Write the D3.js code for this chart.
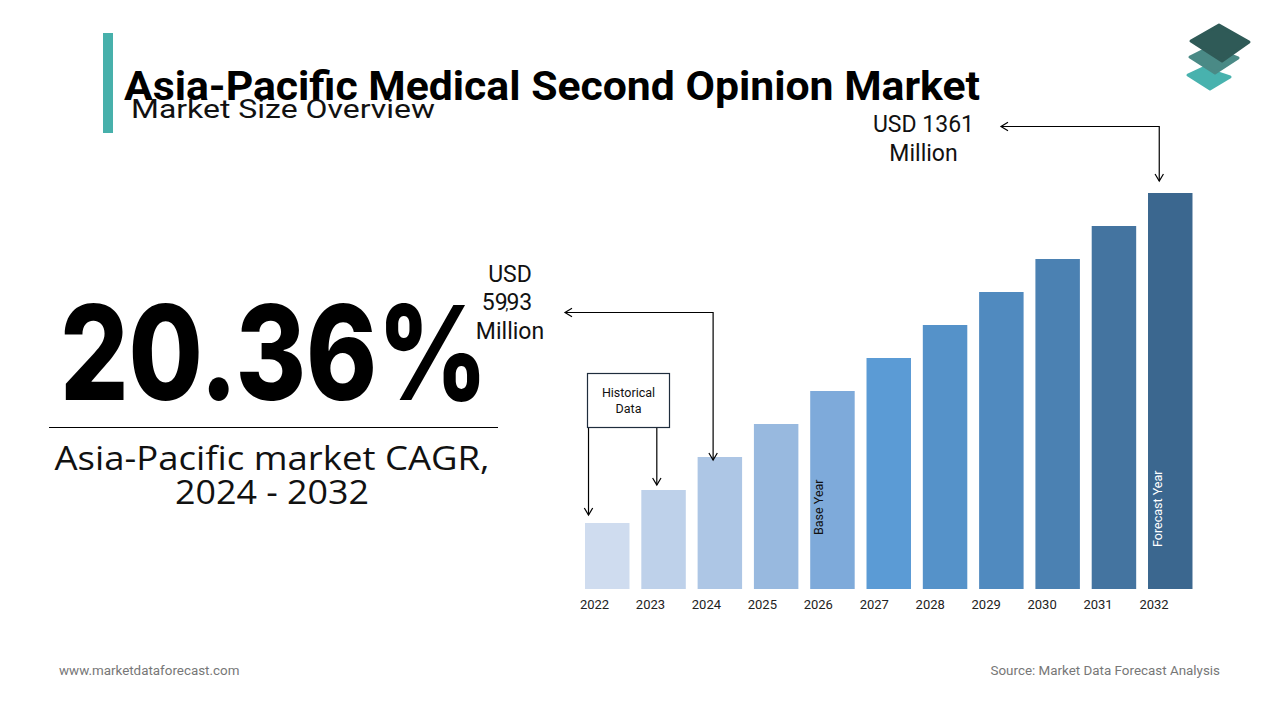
<!DOCTYPE html>
<html>
<head>
<meta charset="utf-8">
<script src="https://cdn.jsdelivr.net/npm/d3@7"></script>
<style>
  html, body { margin: 0; padding: 0; background: #fff; }
  svg { display: block; }
</style>
</head>
<body>
<svg id="chart" width="1280" height="720"></svg>
<script>
// ---- data ----
const years = ["2022","2023","2024","2025","2026","2027","2028","2029","2030","2031","2032"];
const barValues = [2, 3, 4, 5, 6, 7, 8, 9, 10, 11, 12];   // relative bar heights as drawn
const barColors = ["#cfdcef","#bed1ea","#adc6e5","#98b9df","#7eaada","#5b9bd5","#5592c9","#508abf","#4b81b2","#4474a0","#3b678f"];
const titleText = "Asia-Pacific Medical Second Opinion Market";
const subtitleText = "Market Size Overview";
const cagrText = "20.36%";
const cagrLabel = ["Asia-Pacific market CAGR,", "2024 - 2032"];
const startLabel = ["USD", "59,93", "Million"];
const endLabel = ["USD 1361", "Million"];
const histLabel = ["Historical", "Data"];
const baseYearLabel = "Base Year";
const forecastYearLabel = "Forecast Year";
const footerLeft = "www.marketdataforecast.com";
const footerRight = "Source: Market Data Forecast Analysis";

const svg = d3.select("#chart");
const F = "Roboto, 'Noto Sans', sans-serif";

// ---- scales ----
const x = d3.scaleBand().domain(years).range([579.1, 1198.4]).paddingInner(0.21).paddingOuter(0.105);
const y = d3.scaleLinear().domain([0, 12]).range([589, 193]);
const xLab = d3.scalePoint().domain(years).range([594.5, 1154]);

// ---- header ----
svg.append("rect").attr("x", 103).attr("y", 33).attr("width", 10).attr("height", 100).attr("fill", "#47b0ab");
svg.append("text").attr("x", 124).attr("y", 100).attr("font-family", F).attr("font-weight", 700)
  .attr("font-size", 40).attr("fill", "#000").attr("textLength", 856).attr("lengthAdjust", "spacingAndGlyphs").text(titleText);
svg.append("text").attr("x", 131).attr("y", 118).attr("font-family", F).attr("font-weight", 400)
  .attr("font-size", 26).attr("fill", "#111").attr("textLength", 304).attr("lengthAdjust", "spacingAndGlyphs").text(subtitleText);

// logo
const logo = svg.append("g").attr("stroke-linejoin", "round");
logo.append("path").attr("d", "M1188,75 L1203,68 L1230,77 L1210,89 Z").attr("fill", "#48b2ae").attr("stroke", "#48b2ae").attr("stroke-width", 3);
logo.append("path").attr("d", "M1190,57 L1210,47 L1238,58 L1215,73 Z").attr("fill", "#4a8a86").attr("stroke", "#4a8a86").attr("stroke-width", 3);
logo.append("path").attr("d", "M1191,41 L1219,25 L1249,42 L1222,61 Z").attr("fill", "#2f5a57").attr("stroke", "#2f5a57").attr("stroke-width", 3);

// ---- left KPI ----
svg.append("text").attr("x", 60).attr("y", 400).attr("font-family", "Inter, 'Noto Sans', sans-serif").attr("font-weight", 800)
  .attr("font-size", 131).attr("fill", "#000").attr("textLength", 428).attr("lengthAdjust", "spacingAndGlyphs").text(cagrText);
svg.append("line").attr("x1", 49).attr("x2", 498).attr("y1", 427.5).attr("y2", 427.5).attr("stroke", "#000").attr("stroke-width", 1);
svg.selectAll("text.cagr").data(cagrLabel).join("text").attr("class", "cagr")
  .attr("x", 272).attr("y", (d, i) => 470 + i * 34).attr("text-anchor", "middle")
  .attr("font-family", "'Open Sans', 'Noto Sans', sans-serif").attr("font-size", 32).attr("fill", "#111")
  .attr("textLength", (d, i) => i === 0 ? 435 : 194).attr("lengthAdjust", "spacingAndGlyphs")
  .text(d => d);

// ---- bars ----
svg.selectAll("rect.bar").data(years).join("rect").attr("class", "bar")
  .attr("x", d => x(d)).attr("width", x.bandwidth())
  .attr("y", (d, i) => y(barValues[i])).attr("height", (d, i) => y(0) - y(barValues[i]))
  .attr("fill", (d, i) => barColors[i]);

svg.selectAll("text.year").data(years).join("text").attr("class", "year")
  .attr("x", d => xLab(d)).attr("y", 609).attr("text-anchor", "middle")
  .attr("font-family", F).attr("font-size", 13).attr("fill", "#222").text(d => d);

// rotated labels
svg.append("text").attr("transform", `translate(${x("2026") + 13},535) rotate(-90)`)
  .attr("font-family", F).attr("font-size", 12.5).attr("fill", "#111").text(baseYearLabel);
svg.append("text").attr("transform", `translate(${x("2032") + 14},547) rotate(-90)`)
  .attr("font-family", F).attr("font-size", 12.5).attr("fill", "#fff").text(forecastYearLabel);

// ---- annotations ----
const ann = svg.append("g").attr("fill", "none").attr("stroke", "#000").attr("stroke-width", 1.2);
function arrowHead(g, tx, ty, dir) {
  const s = 7;
  let p;
  if (dir === "down") p = `M${tx - s * 0.6},${ty - s} L${tx},${ty} L${tx + s * 0.6},${ty - s}`;
  else p = `M${tx + s},${ty - s * 0.6} L${tx},${ty} L${tx + s},${ty + s * 0.6}`;
  g.append("path").attr("d", p);
}
// 2024 start value arrow
const cx2024 = x("2024") + 15.5;
ann.append("path").attr("d", `M565,312.5 L${cx2024},312.5 L${cx2024},${y(barValues[2]) + 3}`);
arrowHead(ann, 565, 312.5, "left");
arrowHead(ann, cx2024, y(barValues[2]) + 3, "down");
// 2032 end value arrow
const cx2032 = x("2032") + x.bandwidth() / 2 - 11;
ann.append("path").attr("d", `M1001,126.5 L${cx2032},126.5 L${cx2032},${y(barValues[10]) - 12}`);
arrowHead(ann, 1001, 126.5, "left");
arrowHead(ann, cx2032, y(barValues[10]) - 12, "down");
// historical box
svg.append("rect").attr("x", 587.5).attr("y", 373.5).attr("width", 82).attr("height", 54)
  .attr("fill", "#fff").attr("stroke", "#1f2d3d").attr("stroke-width", 1.2);
svg.selectAll("text.hist").data(histLabel).join("text").attr("class", "hist")
  .attr("x", 628.5).attr("y", (d, i) => 397 + i * 16).attr("text-anchor", "middle")
  .attr("font-family", F).attr("font-size", 12.5).attr("fill", "#111").text(d => d);
const hx1 = x("2022") + 3.5, hx2 = x("2023") + 15.5;
ann.append("path").attr("d", `M${hx1},428 L${hx1},${y(barValues[0]) - 8}`);
arrowHead(ann, hx1, y(barValues[0]) - 8, "down");
ann.append("path").attr("d", `M${hx2},428 L${hx2},${y(barValues[1]) - 5}`);
arrowHead(ann, hx2, y(barValues[1]) - 5, "down");

// value labels
const sl = svg.append("text").attr("text-anchor", "middle").attr("font-family", F).attr("font-size", 23).attr("fill", "#111");
sl.append("tspan").attr("x", 510).attr("y", 282).text(startLabel[0]);
const t2 = sl.append("tspan").attr("x", 507).attr("y", 310);
t2.append("tspan").text(startLabel[1].slice(0, 2));
t2.append("tspan").attr("dx", -2).attr("font-size", 14).text(",");
t2.append("tspan").attr("dx", -2).text(startLabel[1].slice(3));
sl.append("tspan").attr("x", 510).attr("y", 339).text(startLabel[2]);

svg.selectAll("text.endv").data(endLabel).join("text").attr("class", "endv")
  .attr("x", 923.5).attr("y", (d, i) => 132 + i * 29).attr("text-anchor", "middle")
  .attr("font-family", F).attr("font-size", 23).attr("fill", "#111").text(d => d);

// ---- footer ----
svg.append("text").attr("x", 59).attr("y", 675).attr("font-family", F).attr("font-size", 13.4)
  .attr("fill", "#777").text(footerLeft);
svg.append("text").attr("x", 1220).attr("y", 675).attr("text-anchor", "end").attr("font-family", F).attr("font-size", 13.4)
  .attr("fill", "#777").text(footerRight);
</script>
</body>
</html>
